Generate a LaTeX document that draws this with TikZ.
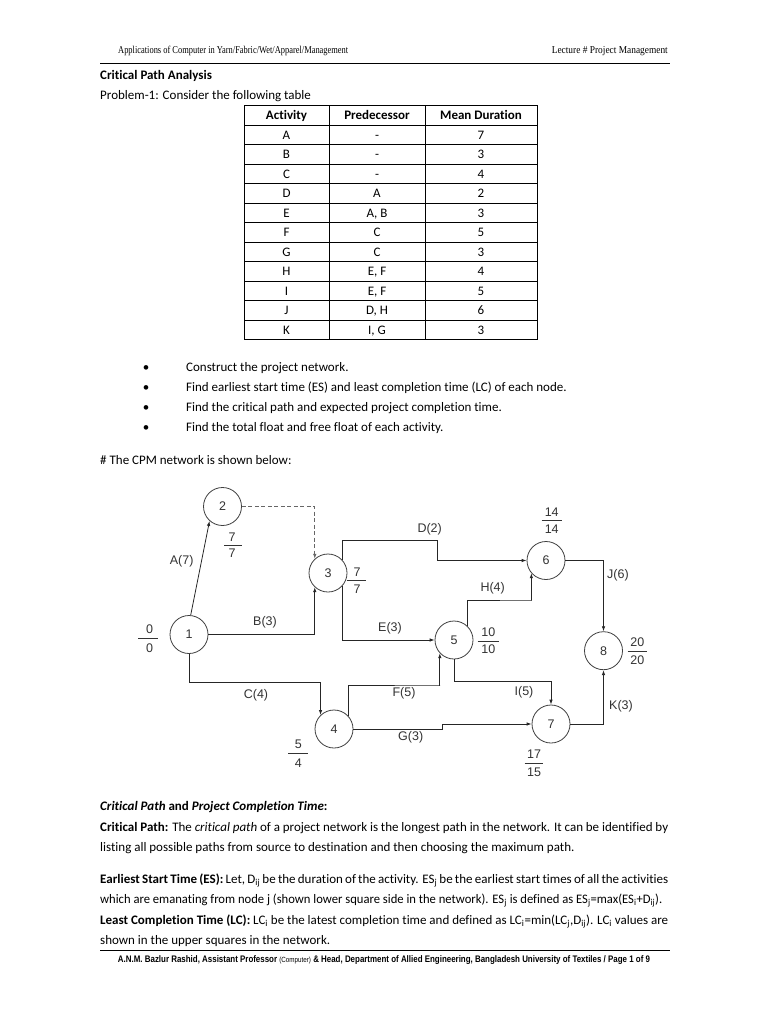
\documentclass[tikz,border=0pt]{standalone}
\usepackage{graphicx}
\usepackage{fontspec}
\setmainfont{Carlito}[Ligatures={NoCommon,NoRare}]
\newfontfamily\hdrfont{Liberation Serif}
\newfontfamily\arialfont{Liberation Sans}
\usetikzlibrary{arrows.meta}
\begin{document}
\begin{tikzpicture}[x=1pt,y=-1pt,
  body/.style={font=\fontsize{13}{15.6}\selectfont, inner sep=0, anchor=base west},
  tc/.style={font=\fontsize{13}{15.6}\selectfont, inner sep=0, anchor=base},
  ev/.style={circle, draw=black!75, line width=0.8pt, minimum size=38pt, inner sep=0,
             font=\arialfont\fontsize{12.5}{14}\selectfont, text=black!80},
  lab/.style={font=\arialfont\fontsize{12.5}{14}\selectfont, text=black!80, inner sep=0},
  con/.style={draw=black!85, line width=0.8pt, -{Latex[length=5pt,width=3.5pt]}},
  bar/.style={draw=black!80, line width=0.7pt},
  rule/.style={draw=black, line width=1pt},
  grid/.style={draw=black, line width=0.9pt}]
\useasboundingbox (0,0) rectangle (768,1024);
\fill[white] (0,0) rectangle (768,1024);

% header
\node[anchor=base west, inner sep=0, font=\hdrfont\fontsize{10.5}{12}\selectfont] (hl) at (118,54)
  {\resizebox{230pt}{\height}{Applications of Computer in Yarn/Fabric/Wet/Apparel/Management}};
\node[anchor=base east, inner sep=0, font=\hdrfont\fontsize{10.5}{12}\selectfont] (hr) at (668,54)
  {\resizebox{116pt}{\height}{Lecture \# Project Management}};
\draw[rule] (100,64) -- (670,64);

% title
\node[body] (t1) at (100,80) {\textbf{Critical Path Analysis}};
\node[body] (t2) at (100,99.5) {Problem-1: Consider the following table};

% table
\foreach \r in {0,...,12} {\draw[grid] (244,105.5+\r*19.5) -- (537.5,105.5+\r*19.5);}
\foreach \c in {244,329,425,537.5} {\draw[grid] (\c,105.5) -- (\c,339.5);}
\node[tc] (th1) at (286.5,119.8) {\textbf{Activity}};
\node[tc] (th2) at (377,119.8) {\textbf{Predecessor}};
\node[tc] (th3) at (481,119.8) {\textbf{Mean Duration}};
\foreach \a/\p/\d [count=\i from 1] in {A/-/7, B/-/3, C/-/4, D/A/2, E/{A, B}/3, F/C/5, G/C/3, H/{E, F}/4, I/{E, F}/5, J/{D, H}/6, K/{I, G}/3} {
  \node[tc] (ta\i) at (286.5,119.8+\i*19.5) {\a};
  \node[tc] (tp\i) at (377,119.8+\i*19.5) {\p};
  \node[tc] (td\i) at (481,119.8+\i*19.5) {\d};
}

% bullets
\foreach \t [count=\i from 0] in {Construct the project network.,
  Find earliest start time (ES) and least completion time (LC) of each node.,
  Find the critical path and expected project completion time.,
  Find the total float and free float of each activity.} {
  \node[tc] (bu\i) at (146,371+\i*20) {\textbullet};
  \node[body] (bt\i) at (186,371+\i*20) {\t};
}
\node[body] (cpm) at (100,464) {\# The CPM network is shown below:};

% network nodes
\node[ev] (n1) at (189,634.5) {1};
\node[ev] (n2) at (222.5,506.5) {2};
\node[ev] (n3) at (328,573) {3};
\node[ev] (n4) at (334,729) {4};
\node[ev] (n5) at (454,640) {5};
\node[ev] (n6) at (546,560.5) {6};
\node[ev] (n7) at (551,724) {7};
\node[ev] (n8) at (603.5,650.7) {8};

\coordinate (c1) at (189,682);
\coordinate (d1) at (437,540);
\coordinate (f1) at (440,685);
\coordinate (g1) at (442,729);
\coordinate (h1) at (531.7,600);
\coordinate (i1) at (454,681.7);

% connectors
\draw[con] (n1.85) -- (n2.228);
\draw[con, dashed, dash pattern=on 4pt off 2.5pt, draw=black!60] (n2.east) -| (n3.133);
\draw[con] (n1.east) -| (n3.227);
\draw[con] (n1.south) -- (c1) -| (n4.134);
\draw[con] (n3.44) |- (d1) |- (n6.west);
\draw[con] (n3.316) |- (n5.west);
\draw[con] (n4.43) |- (f1) -| (n5.223);
\draw[con] (n4.east) -- (g1) |- (n7.west);
\draw[con] (n5.48) |- (h1) -| (n6.221);
\draw[con] (n5.south) -- (i1) -| (n7.north);
\draw[con] (n6.east) -| (n8.north);
\draw[con] (n7.east) -| (n8.south);

% connector labels
\node[lab] (lA) at (181.7,561.7) {A(7)};
\node[lab] (lB) at (265,622.7) {B(3)};
\node[lab] (lC) at (256,695) {C(4)};
\node[lab] (lD) at (429.7,529.3) {D(2)};
\node[lab] (lE) at (390,628) {E(3)};
\node[lab] (lF) at (404,693.3) {F(5)};
\node[lab] (lG) at (410.7,737.3) {G(3)};
\node[lab] (lH) at (492.7,588.3) {H(4)};
\node[lab] (lI) at (524,692.7) {I(5)};
\node[lab] (lJ) at (618,575) {J(6)};
\node[lab] (lK) at (621,706) {K(3)};

% time fractions
\node[lab] (q1a) at (149.5,629.3) {0};  \node[lab] (q1b) at (149.5,648.3) {0};
\draw[bar] (138,638) -- (158,638);
\node[lab] (q2a) at (232,536.7) {7};  \node[lab] (q2b) at (232,553) {7};
\draw[bar] (224,545) -- (241.5,545);
\node[lab] (q3a) at (357,572) {7};  \node[lab] (q3b) at (357,589) {7};
\draw[bar] (346.5,580.5) -- (366,580.5);
\node[lab] (q6a) at (551.7,512) {14};  \node[lab] (q6b) at (551.7,529) {14};
\draw[bar] (541.5,520.5) -- (562,520.5);
\node[lab] (q5a) at (488.3,632.3) {10};  \node[lab] (q5b) at (488.3,649.5) {10};
\draw[bar] (477.7,641.2) -- (498.5,641.2);
\node[lab] (q8a) at (637.3,642.3) {20};  \node[lab] (q8b) at (637.3,660) {20};
\draw[bar] (627.5,651.2) -- (647,651.2);
\node[lab] (q4a) at (298.3,744.3) {5};  \node[lab] (q4b) at (298.3,762.7) {4};
\draw[bar] (288,753.3) -- (307.5,753.3);
\node[lab] (q7a) at (534,754) {17};  \node[lab] (q7b) at (534,772.7) {15};
\draw[bar] (524.5,763.3) -- (543,763.3);

% lower text
\node[body] (s0) at (100,810) {\textbf{\textit{Critical Path} and \textit{Project Completion Time}:}};
\node[body] (s1) at (100,831) {\makebox[568pt][s]{\textbf{Critical Path:} The \textit{critical path} of a project network is the longest path in the network. It can be identified by}};
\node[body] (s2) at (100,851) {listing all possible paths from source to destination and then choosing the maximum path.};
\node[body] (s3) at (100,883) {\makebox[568pt][s]{\textbf{Earliest Start Time (ES):} Let, D\textsubscript{ij} be the duration of the activity. ES\textsubscript{j} be the earliest start times of all the activities}};
\node[body] (s4) at (100,903) {\resizebox{562pt}{\height}{which are emanating from node j (shown lower square side in the network). ES\textsubscript{j} is defined as ES\textsubscript{j}=max(ES\textsubscript{i}+D\textsubscript{ij}).}};
\node[body] (s5) at (100,924) {\makebox[568pt][s]{\textbf{Least Completion Time (LC):} LC\textsubscript{i} be the latest completion time and defined as LC\textsubscript{i}=min(LC\textsubscript{j},D\textsubscript{ij}). LC\textsubscript{i} values are}};
\node[body] (s6) at (100,944) {shown in the upper squares in the network.};

% footer
\draw[rule] (100,950) -- (670,950);
\node[anchor=base, inner sep=0, font=\arialfont\bfseries\fontsize{9.5}{11}\selectfont] (ft) at (384,962)
  {\resizebox{532pt}{\height}{A.N.M. Bazlur Rashid, Assistant Professor {\mdseries\fontsize{7.5}{9}\selectfont(Computer)} \& Head, Department of Allied Engineering, Bangladesh University of Textiles / Page 1 of 9}};
\end{tikzpicture}
\end{document}
